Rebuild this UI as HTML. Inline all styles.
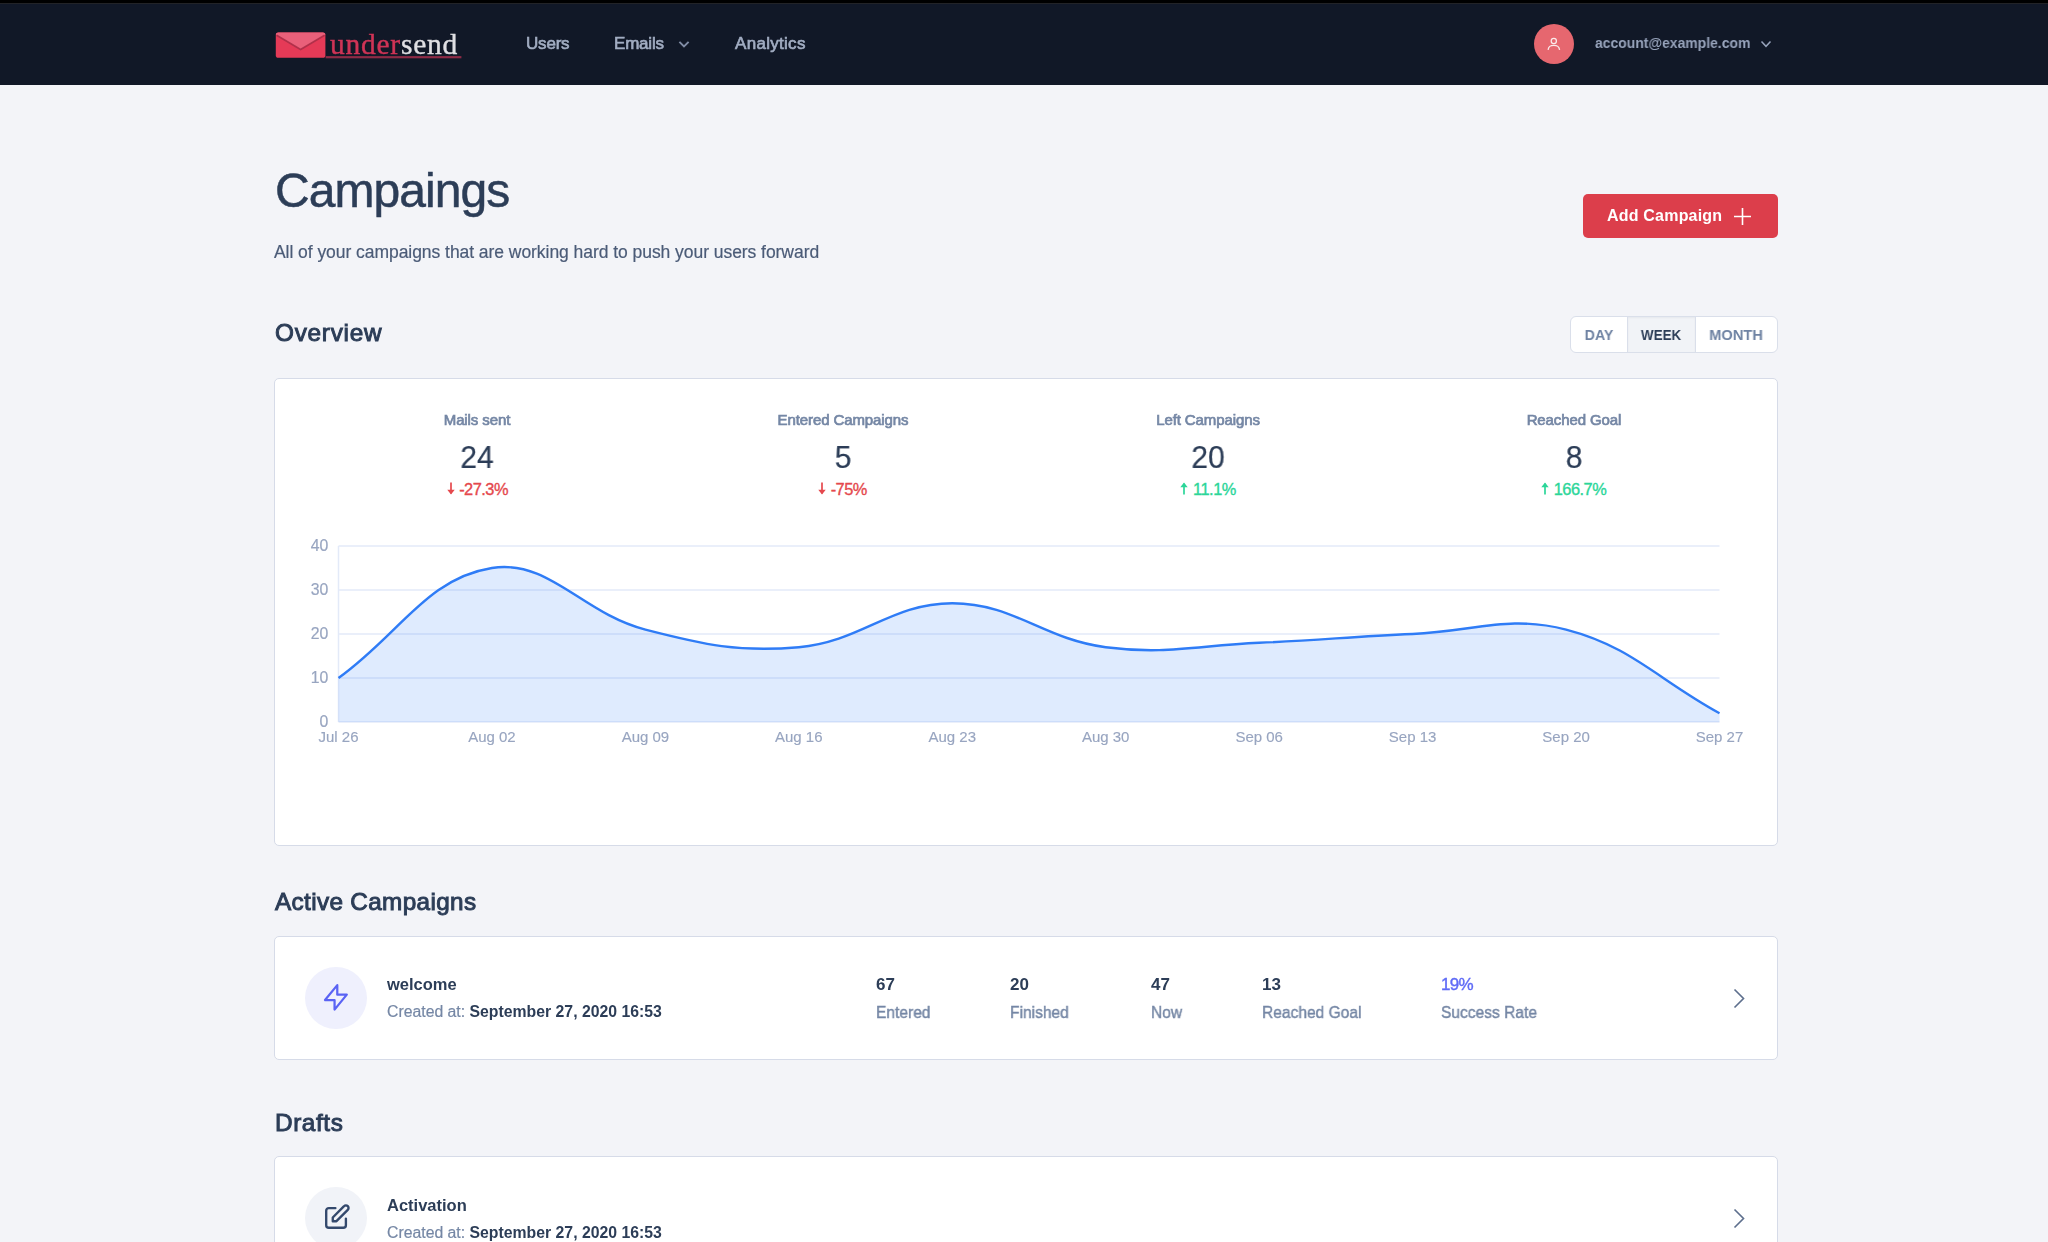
<!DOCTYPE html>
<html>
<head>
<meta charset="utf-8">
<style>
html,body{margin:0;padding:0;}
body{width:2048px;height:1242px;overflow:hidden;background:#f3f4f8;position:relative;font-family:"Liberation Sans",sans-serif;}
.a{position:absolute;}
.t{position:absolute;line-height:1;white-space:nowrap;will-change:transform;}
.card{position:absolute;background:#fff;border:1.5px solid #d6dbe8;border-radius:5px;box-sizing:border-box;}
</style>
</head>
<body>
<div class="a" style="left:0;top:0;width:2048px;height:85px;background:#111827;"></div>
<div class="a" style="left:0;top:0;width:2048px;height:3px;background:#000;"></div>
<div class="a" style="left:0;top:3px;width:2048px;height:1px;background:#222327;"></div>
<svg class="a" style="left:0;top:0" width="480" height="84" viewBox="0 0 480 84">
  <rect x="275.8" y="32.4" width="49.6" height="25.4" rx="2.6" fill="#e53a57"/>
  <path d="M278.4,32.4 H322.8 Q325.4,32.4 325.4,34.6 L300.6,49.6 L275.8,34.6 Q275.8,32.4 278.4,32.4 Z" fill="#e9607a"/>
  <path d="M276.6,35.2 L300.6,49.4 L324.6,35.2" fill="none" stroke="#ab2d47" stroke-width="1.7" stroke-opacity="0.9"/>
  <rect x="325.6" y="56.1" width="135.8" height="2.2" fill="#8e2b46"/>
</svg>
<div class="t" style="left:329.5px;top:29.59px;font-size:29.5px;font-weight:400;color:#fff;font-family:'Liberation Serif';letter-spacing:0.75px;"><span style="color:#cf3456;-webkit-text-stroke:0.4px #cf3456">under</span><span style="color:#dfdfe3;-webkit-text-stroke:0.4px #dfdfe3">send</span></div>
<div class="t" style="left:526px;top:35.21px;font-size:17px;font-weight:400;color:#a2adc2;font-family:'Liberation Sans';-webkit-text-stroke:0.65px #a2adc2;letter-spacing:-0.2px;">Users</div>
<div class="t" style="left:614px;top:35.21px;font-size:17px;font-weight:400;color:#a2adc2;font-family:'Liberation Sans';-webkit-text-stroke:0.65px #a2adc2;letter-spacing:-0.2px;">Emails</div>
<svg class="a" style="left:676px;top:38px" width="16" height="12" viewBox="0 0 16 12"><path d="M3.4,3.8 L8,8.4 L12.6,3.8" fill="none" stroke="#808ca5" stroke-width="1.9"/></svg>
<div class="t" style="left:735px;top:35.21px;font-size:17px;font-weight:400;color:#a2adc2;font-family:'Liberation Sans';-webkit-text-stroke:0.65px #a2adc2;letter-spacing:0.3px;">Analytics</div>
<div class="a" style="left:1534.4px;top:23.9px;width:40px;height:40px;border-radius:50%;background:#e6676f;"></div>
<svg class="a" style="left:1534.4px;top:23.9px" width="40" height="40" viewBox="0 0 40 40">
  <circle cx="19.8" cy="16.9" r="2.6" fill="none" stroke="#fbeaea" stroke-width="1.25"/>
  <path d="M14.1,25.8 C14.6,22.2 16.2,21.4 19.8,21.4 C23.4,21.4 25,22.2 25.6,25.8" fill="none" stroke="#fbeaea" stroke-width="1.3"/>
</svg>
<div class="t" style="left:1595px;top:36.24px;font-size:14.6px;font-weight:700;color:#97a3bb;font-family:'Liberation Sans';transform:scaleX(0.955);transform-origin:0 0;">account@example.com</div>
<svg class="a" style="left:1757.5px;top:38px" width="16" height="12" viewBox="0 0 16 12"><path d="M3.5,3.5 L8,8.3 L12.5,3.5" fill="none" stroke="#97a3bb" stroke-width="1.5"/></svg>
<div class="t" style="left:274.5px;top:166.97px;font-size:48px;font-weight:400;color:#2c3d57;font-family:'Liberation Sans';letter-spacing:-0.95px;-webkit-text-stroke:0.5px #2c3d57;">Campaings</div>
<div class="t" style="left:274px;top:243.59px;font-size:17.5px;font-weight:400;color:#4b5b77;font-family:'Liberation Sans';-webkit-text-stroke:0.2px #4b5b77;letter-spacing:-0.05px;">All of your campaigns that are working hard to push your users forward</div>
<div class="a" style="left:1583px;top:194px;width:195px;height:44px;border-radius:5px;background:#dc3e4b;"></div>
<div class="t" style="left:1606.5px;top:208.46px;font-size:16px;font-weight:700;color:#fff;font-family:'Liberation Sans';letter-spacing:0.2px;">Add Campaign</div>
<svg class="a" style="left:1734px;top:208px" width="17" height="17" viewBox="0 0 17 17"><path d="M8.5,0 V17 M0,8.5 H17" stroke="#fff" stroke-width="1.6"/></svg>
<div class="t" style="left:274.5px;top:321.33px;font-size:24.3px;font-weight:400;color:#2c3d57;font-family:'Liberation Sans';-webkit-text-stroke:0.95px #2c3d57;letter-spacing:0.75px;">Overview</div>
<div class="a" style="left:1570px;top:316.3px;width:208px;height:36.5px;border:1.7px solid #dadfea;border-radius:6px;box-sizing:border-box;background:#fff;overflow:hidden;"><div class="a" style="left:55.8px;top:0;bottom:0;width:69.5px;background:#f1f3f7;border-left:1.5px solid #dadfea;border-right:1.5px solid #dadfea;box-sizing:border-box;box-shadow:inset 0 1px 2px rgba(20,30,60,0.05);"></div></div>
<div class="t" style="left:1568.8px;width:60px;text-align:center;top:327.10px;font-size:15px;font-weight:700;color:#6f83a3;transform:scaleX(0.94);">DAY</div>
<div class="t" style="left:1625.5px;width:70px;text-align:center;top:327.10px;font-size:15px;font-weight:700;color:#2c3d57;transform:scaleX(0.89);">WEEK</div>
<div class="t" style="left:1696.2px;width:80px;text-align:center;top:327.10px;font-size:15px;font-weight:700;color:#6f83a3;transform:scaleX(0.975);">MONTH</div>
<div class="card" style="left:273.5px;top:378.2px;width:1504.5px;height:468.3px;"></div>
<div class="t" style="left:277.3px;width:400px;text-align:center;top:411.70px;font-size:15px;font-weight:400;color:#7587a5;-webkit-text-stroke:0.7px #7587a5;letter-spacing:-0.1px;">Mails sent</div>
<div class="t" style="left:277.3px;width:400px;text-align:center;top:441.86px;font-size:31px;font-weight:400;color:#2c3d57;-webkit-text-stroke:0.2px #2c3d57;transform:scaleX(0.97);">24</div>
<div class="a" style="left:277.3px;width:400px;top:482px;height:13px;display:flex;justify-content:center;align-items:flex-start;"><svg width="8" height="13" viewBox="0 0 8 13" style="margin-right:4.6px;"><path d="M4,0.5 V11.5" stroke="#e5484d" stroke-width="1.7"/><path d="M0.3,7.8 L4,12.4 L7.7,7.8 Z" fill="#e5484d"/></svg><span style="font-size:16.4px;line-height:13px;height:13px;color:#e5484d;-webkit-text-stroke:0.35px #e5484d;letter-spacing:-0.5px;white-space:nowrap;position:relative;top:0.9px;">-27.3%</span></div>
<div class="t" style="left:642.5px;width:400px;text-align:center;top:411.70px;font-size:15px;font-weight:400;color:#7587a5;-webkit-text-stroke:0.7px #7587a5;letter-spacing:-0.1px;">Entered Campaigns</div>
<div class="t" style="left:642.5px;width:400px;text-align:center;top:441.86px;font-size:31px;font-weight:400;color:#2c3d57;-webkit-text-stroke:0.2px #2c3d57;transform:scaleX(0.97);">5</div>
<div class="a" style="left:642.5px;width:400px;top:482px;height:13px;display:flex;justify-content:center;align-items:flex-start;"><svg width="8" height="13" viewBox="0 0 8 13" style="margin-right:4.6px;"><path d="M4,0.5 V11.5" stroke="#e5484d" stroke-width="1.7"/><path d="M0.3,7.8 L4,12.4 L7.7,7.8 Z" fill="#e5484d"/></svg><span style="font-size:16.4px;line-height:13px;height:13px;color:#e5484d;-webkit-text-stroke:0.35px #e5484d;letter-spacing:-0.5px;white-space:nowrap;position:relative;top:0.9px;">-75%</span></div>
<div class="t" style="left:1008.0px;width:400px;text-align:center;top:411.70px;font-size:15px;font-weight:400;color:#7587a5;-webkit-text-stroke:0.7px #7587a5;letter-spacing:-0.1px;">Left Campaigns</div>
<div class="t" style="left:1008.0px;width:400px;text-align:center;top:441.86px;font-size:31px;font-weight:400;color:#2c3d57;-webkit-text-stroke:0.2px #2c3d57;transform:scaleX(0.97);">20</div>
<div class="a" style="left:1008px;width:400px;top:482px;height:13px;display:flex;justify-content:center;align-items:flex-start;"><svg width="8" height="13" viewBox="0 0 8 13" style="margin-right:5px;"><path d="M4,1.5 V12.5" stroke="#2bd699" stroke-width="1.7"/><path d="M0.3,5.2 L4,0.6 L7.7,5.2 Z" fill="#2bd699"/></svg><span style="font-size:16.4px;line-height:13px;height:13px;color:#2bd699;-webkit-text-stroke:0.35px #2bd699;letter-spacing:-0.5px;white-space:nowrap;position:relative;top:0.9px;">11.1%</span></div>
<div class="t" style="left:1373.5px;width:400px;text-align:center;top:411.70px;font-size:15px;font-weight:400;color:#7587a5;-webkit-text-stroke:0.7px #7587a5;letter-spacing:-0.1px;">Reached Goal</div>
<div class="t" style="left:1373.5px;width:400px;text-align:center;top:441.86px;font-size:31px;font-weight:400;color:#2c3d57;-webkit-text-stroke:0.2px #2c3d57;transform:scaleX(0.97);">8</div>
<div class="a" style="left:1373.5px;width:400px;top:482px;height:13px;display:flex;justify-content:center;align-items:flex-start;"><svg width="8" height="13" viewBox="0 0 8 13" style="margin-right:5px;"><path d="M4,1.5 V12.5" stroke="#2bd699" stroke-width="1.7"/><path d="M0.3,5.2 L4,0.6 L7.7,5.2 Z" fill="#2bd699"/></svg><span style="font-size:16.4px;line-height:13px;height:13px;color:#2bd699;-webkit-text-stroke:0.35px #2bd699;letter-spacing:-0.5px;white-space:nowrap;position:relative;top:0.9px;">166.7%</span></div>
<svg class="a" style="left:0;top:0" width="2048" height="846" viewBox="0 0 2048 846">
  <line x1="338.5" y1="546" x2="1719.5" y2="546" stroke="#e3eaf8" stroke-width="1.5"/><line x1="338.5" y1="590" x2="1719.5" y2="590" stroke="#e3eaf8" stroke-width="1.5"/><line x1="338.5" y1="634" x2="1719.5" y2="634" stroke="#e3eaf8" stroke-width="1.5"/><line x1="338.5" y1="678" x2="1719.5" y2="678" stroke="#e3eaf8" stroke-width="1.5"/><line x1="338.5" y1="722" x2="1719.5" y2="722" stroke="#e3eaf8" stroke-width="1.5"/>
  <line x1="338.5" y1="546" x2="338.5" y2="722" stroke="#e3eaf8" stroke-width="1.5"/>
  <path d="M338.50,678.00 C399.88,634.00 426.50,578.32 491.94,568.00 C549.26,558.96 581.92,613.22 645.39,629.60 C704.68,644.90 738.47,652.39 798.83,647.20 C861.22,641.83 890.90,603.20 952.28,603.20 C1013.66,603.20 1043.14,639.13 1105.72,647.20 C1165.90,654.97 1197.83,645.44 1259.17,642.80 C1320.58,640.16 1351.20,636.64 1412.61,634.00 C1473.95,631.36 1508.65,614.78 1566.06,629.60 C1631.40,646.46 1658.12,679.76 1719.50,713.20 L1719.5,722.0 L338.5,722.0 Z" fill="#3b82f6" fill-opacity="0.16"/>
  <path d="M338.50,678.00 C399.88,634.00 426.50,578.32 491.94,568.00 C549.26,558.96 581.92,613.22 645.39,629.60 C704.68,644.90 738.47,652.39 798.83,647.20 C861.22,641.83 890.90,603.20 952.28,603.20 C1013.66,603.20 1043.14,639.13 1105.72,647.20 C1165.90,654.97 1197.83,645.44 1259.17,642.80 C1320.58,640.16 1351.20,636.64 1412.61,634.00 C1473.95,631.36 1508.65,614.78 1566.06,629.60 C1631.40,646.46 1658.12,679.76 1719.50,713.20" fill="none" stroke="#2f7cf6" stroke-width="2.4"/>
  <g font-family="Liberation Sans" font-size="15.8" fill="#98a5c0" stroke="#98a5c0" stroke-width="0.2"><text x="328.3" y="550.7" text-anchor="end">40</text><text x="328.3" y="594.7" text-anchor="end">30</text><text x="328.3" y="638.7" text-anchor="end">20</text><text x="328.3" y="682.7" text-anchor="end">10</text><text x="328.3" y="726.7" text-anchor="end">0</text></g>
  <g font-family="Liberation Sans" font-size="15" fill="#98a5c0" stroke="#98a5c0" stroke-width="0.15"><text x="338.5" y="742.3" text-anchor="middle">Jul 26</text><text x="491.9" y="742.3" text-anchor="middle">Aug 02</text><text x="645.4" y="742.3" text-anchor="middle">Aug 09</text><text x="798.8" y="742.3" text-anchor="middle">Aug 16</text><text x="952.3" y="742.3" text-anchor="middle">Aug 23</text><text x="1105.7" y="742.3" text-anchor="middle">Aug 30</text><text x="1259.2" y="742.3" text-anchor="middle">Sep 06</text><text x="1412.6" y="742.3" text-anchor="middle">Sep 13</text><text x="1566.1" y="742.3" text-anchor="middle">Sep 20</text><text x="1719.5" y="742.3" text-anchor="middle">Sep 27</text></g>
</svg>
<div class="t" style="left:274.5px;top:889.93px;font-size:24.3px;font-weight:400;color:#2c3d57;font-family:'Liberation Sans';-webkit-text-stroke:0.95px #2c3d57;letter-spacing:0.35px;">Active Campaigns</div>
<div class="card" style="left:273.5px;top:936px;width:1504.5px;height:123.5px;"></div>
<div class="a" style="left:304.5px;top:967px;width:62px;height:62px;border-radius:50%;background:#eff0fd;"></div>
<svg class="a" style="left:304.5px;top:967px" width="62" height="62" viewBox="0 0 62 62"><path transform="translate(14.6,14.03) scale(1.36)" d="M13 10V3L4 14h7v7l9-11h-7z" fill="none" stroke="#5a63f4" stroke-width="1.65" stroke-linejoin="round" stroke-linecap="round"/></svg>
<div class="t" style="left:386.5px;top:976.33px;font-size:16.5px;font-weight:700;color:#2c3d57;font-family:'Liberation Sans';">welcome</div>
<div class="t" style="left:386.5px;top:1004.03px;font-size:15.8px;font-weight:400;color:#7587a5;font-family:'Liberation Sans';"><span style="-webkit-text-stroke:0.2px #7587a5;">Created at:</span> <b style="color:#2c3d57">September 27, 2020 16:53</b></div>
<div class="t" style="left:876px;top:975.81px;font-size:17px;font-weight:700;color:#2c3d57;font-family:'Liberation Sans';">67</div>
<div class="t" style="left:876px;top:1003.51px;font-size:17px;font-weight:400;color:#7587a5;font-family:'Liberation Sans';-webkit-text-stroke:0.45px #7587a5;transform:scaleX(0.915);transform-origin:0 0;">Entered</div>
<div class="t" style="left:1009.6px;top:975.81px;font-size:17px;font-weight:700;color:#2c3d57;font-family:'Liberation Sans';">20</div>
<div class="t" style="left:1009.6px;top:1003.51px;font-size:17px;font-weight:400;color:#7587a5;font-family:'Liberation Sans';-webkit-text-stroke:0.45px #7587a5;transform:scaleX(0.915);transform-origin:0 0;">Finished</div>
<div class="t" style="left:1150.5px;top:975.81px;font-size:17px;font-weight:700;color:#2c3d57;font-family:'Liberation Sans';">47</div>
<div class="t" style="left:1150.5px;top:1003.51px;font-size:17px;font-weight:400;color:#7587a5;font-family:'Liberation Sans';-webkit-text-stroke:0.45px #7587a5;transform:scaleX(0.915);transform-origin:0 0;">Now</div>
<div class="t" style="left:1262px;top:975.81px;font-size:17px;font-weight:700;color:#2c3d57;font-family:'Liberation Sans';">13</div>
<div class="t" style="left:1262px;top:1003.51px;font-size:17px;font-weight:400;color:#7587a5;font-family:'Liberation Sans';-webkit-text-stroke:0.45px #7587a5;transform:scaleX(0.915);transform-origin:0 0;">Reached Goal</div>
<div class="t" style="left:1441px;top:975.81px;font-size:17px;font-weight:400;color:#5f6bf6;font-family:'Liberation Sans';-webkit-text-stroke:0.4px #5f6bf6;letter-spacing:-0.7px;">19%</div>
<div class="t" style="left:1441px;top:1003.51px;font-size:17px;font-weight:400;color:#7587a5;font-family:'Liberation Sans';-webkit-text-stroke:0.45px #7587a5;transform:scaleX(0.915);transform-origin:0 0;">Success Rate</div>
<svg class="a" style="left:1729px;top:986px" width="22" height="25" viewBox="0 0 22 25"><path d="M5.5,3.5 L14.5,12.5 L5.5,21.5" fill="none" stroke="#5e6f8d" stroke-width="1.65"/></svg>
<div class="t" style="left:274.5px;top:1110.73px;font-size:24.3px;font-weight:400;color:#2c3d57;font-family:'Liberation Sans';-webkit-text-stroke:0.95px #2c3d57;letter-spacing:0.6px;">Drafts</div>
<div class="card" style="left:273.5px;top:1156px;width:1504.5px;height:200px;"></div>
<div class="a" style="left:304.5px;top:1187px;width:62px;height:62px;border-radius:50%;background:#f1f3f8;"></div>
<svg class="a" style="left:304.5px;top:1187px" width="62" height="62" viewBox="0 0 62 62"><path transform="translate(15.95,14.5) scale(1.313)" d="M11 5H6a2 2 0 00-2 2v11a2 2 0 002 2h11a2 2 0 002-2v-5m-1.414-9.414a2 2 0 112.828 2.828L11.828 15H9v-2.828l8.586-8.586z" fill="none" stroke="#34496d" stroke-width="1.8" stroke-linecap="round" stroke-linejoin="round"/></svg>
<div class="t" style="left:386.5px;top:1197.03px;font-size:16.5px;font-weight:700;color:#2c3d57;font-family:'Liberation Sans';">Activation</div>
<div class="t" style="left:386.5px;top:1225.33px;font-size:15.8px;font-weight:400;color:#7587a5;font-family:'Liberation Sans';"><span style="-webkit-text-stroke:0.2px #7587a5;">Created at:</span> <b style="color:#2c3d57">September 27, 2020 16:53</b></div>
<svg class="a" style="left:1729px;top:1206px" width="22" height="25" viewBox="0 0 22 25"><path d="M5.5,3.5 L14.5,12.5 L5.5,21.5" fill="none" stroke="#5e6f8d" stroke-width="1.65"/></svg>
</body>
</html>
